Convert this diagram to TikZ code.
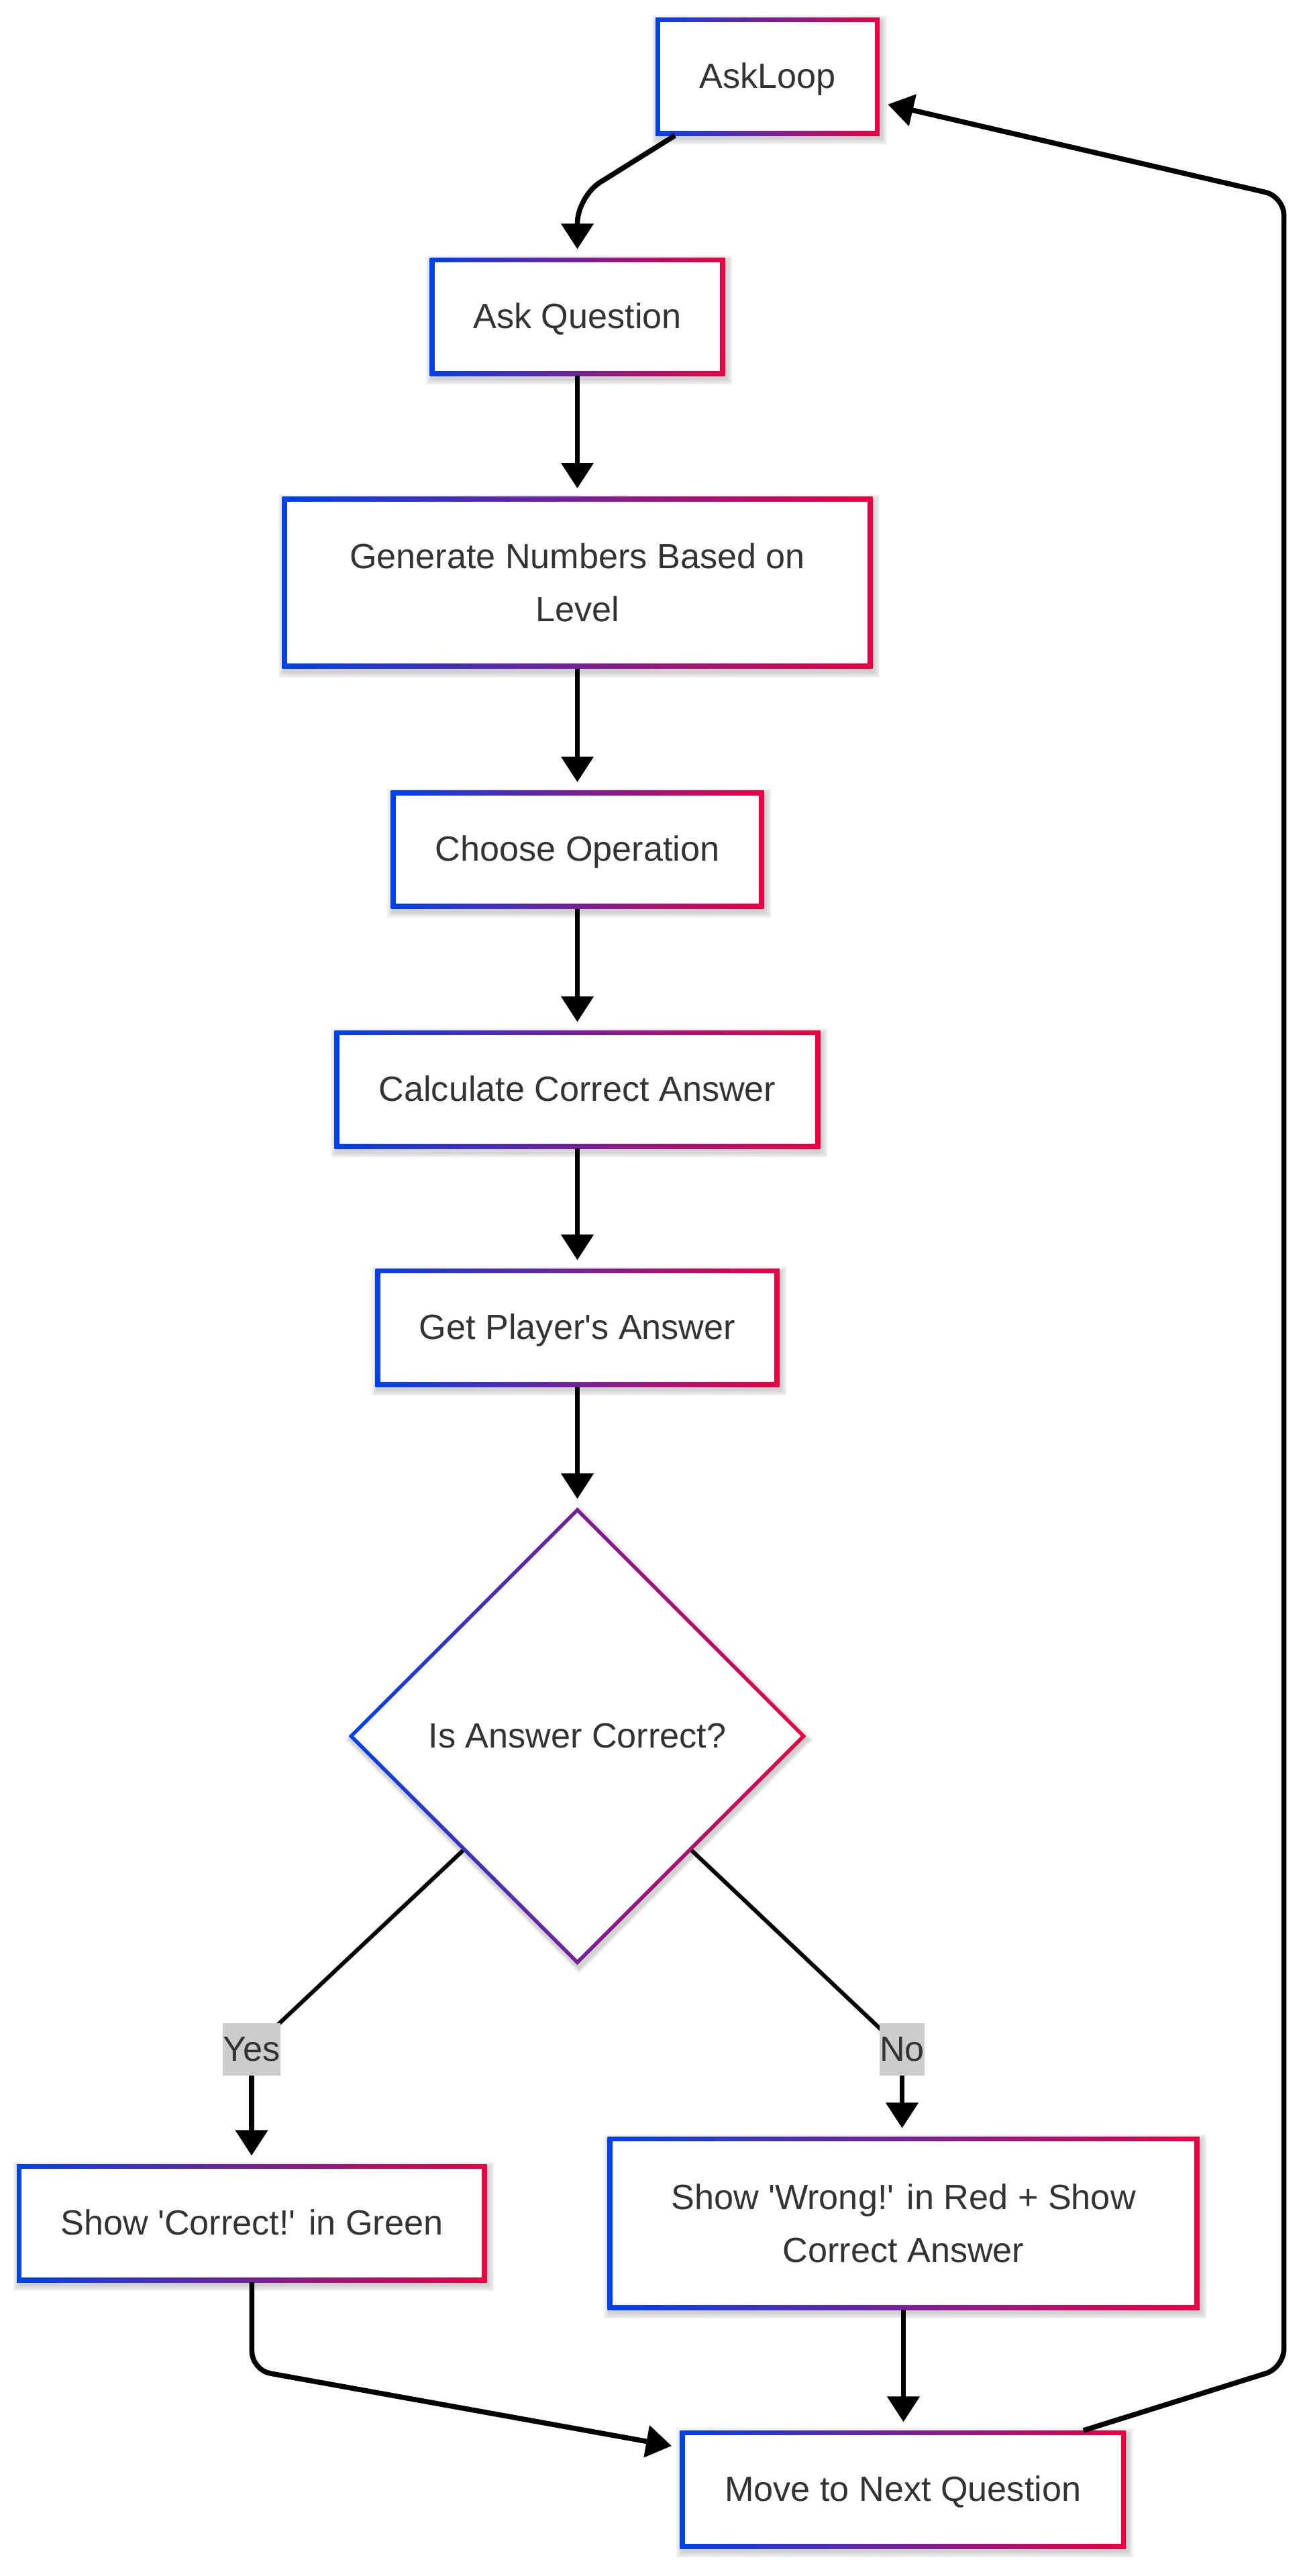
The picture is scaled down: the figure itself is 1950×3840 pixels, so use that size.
\documentclass[tikz,border=0pt]{standalone}
\usepackage{fontspec}
\setmainfont{Liberation Sans}
\usetikzlibrary{arrows.meta,calc,shapes.geometric}
\pgfdeclarelayer{bg}
\pgfdeclarelayer{edges}
\pgfsetlayers{bg,edges,main}
\definecolor{gA}{HTML}{0042EB}
\definecolor{gB}{HTML}{EB0042}
\definecolor{txt}{HTML}{333333}
\definecolor{lbl}{HTML}{CCCCCC}
\definecolor{shd}{HTML}{B9B9B9}
\newcommand\sq{\textquotesingle}
\newcommand\gbox[1]{%
\begin{pgfonlayer}{bg}
\foreach \e in {8,5.5,3,1}{\fill[shd,opacity=0.22] ($(#1.north west)+(2.5-\e,5-\e)$) rectangle ($(#1.south east)+(2.5+\e,5+\e)$);}
\shade[left color=gA,right color=gB] (#1.north west) rectangle (#1.south east);
\fill[white] ($(#1.north west)+(7.3,7.3)$) rectangle ($(#1.south east)+(-7.3,-7.3)$);
\end{pgfonlayer}}
\newcommand\gdia[1]{%
\begin{pgfonlayer}{bg}
\foreach \e in {8,5.5,3,1}{\fill[shd,opacity=0.22] ($(#1.north)+(2.5,5-\e)$) -- ($(#1.east)+(2.5+\e,5)$) -- ($(#1.south)+(2.5,5+\e)$) -- ($(#1.west)+(2.5-\e,5)$) -- cycle;}
\shade[left color=gA,right color=gB] (#1.north) -- (#1.east) -- (#1.south) -- (#1.west) -- cycle;
\fill[white] ($(#1.north)+(0,7.8)$) -- ($(#1.east)+(-7.8,0)$) -- ($(#1.south)+(0,-7.8)$) -- ($(#1.west)+(7.8,0)$) -- cycle;
\end{pgfonlayer}}
\begin{document}
\begin{tikzpicture}[x=0.5pt,y=-0.5pt,
  nodefont/.style={font=\fontsize{26.1pt}{39.5pt}\selectfont, text=txt},
  onebox/.style={nodefont, rectangle, inner sep=0pt, outer sep=0pt, minimum height=88pt, text height=22pt, text depth=5pt},
  twobox/.style={nodefont, rectangle, inner sep=0pt, outer sep=0pt, align=center},
  decision/.style={nodefont, diamond, inner sep=0pt, outer sep=0pt, minimum width=341pt, minimum height=341pt, text height=22pt, text depth=5pt},
  elabel/.style={nodefont, rectangle, fill=lbl, inner sep=0pt, outer sep=0pt, minimum height=39pt, text height=22pt, text depth=5pt},
  conn/.style={draw=black, line width=3.8pt, -{Triangle[length=19pt,width=23.5pt]}, shorten >=6.3pt},
  thinconn/.style={draw=black, line width=3pt}
]
\begin{pgfonlayer}{bg}
\fill[white] (0,0) rectangle (1950,3840);
\end{pgfonlayer}
\useasboundingbox (0,0) rectangle (1950,3840);

\node[onebox, minimum width=167pt] (askloop) at (1144,114) {AskLoop};
\node[onebox, minimum width=220pt] (askq) at (860.5,472) {Ask Question};
\node[twobox, minimum width=440pt, minimum height=128pt] (gen) at (860.5,868.6) {Generate Numbers Based on\\Level};
\node[onebox, minimum width=278pt] (choose) at (860.5,1266.5) {Choose Operation};
\node[onebox, minimum width=362pt] (calc) at (860.5,1624) {Calculate Correct Answer};
\node[onebox, minimum width=301pt] (getp) at (860.5,1979) {Get Player\sq{}s Answer};
\node[decision] (dia) at (860.5,2588) {Is Answer Correct?};
\node[elabel, minimum width=43pt] (yes) at (375,3055) {Yes};
\node[elabel, minimum width=33.5pt] (no) at (1344.5,3055) {No};
\node[onebox, minimum width=350.3pt] (correct) at (375.4,3314) {Show \sq{}Correct!\sq{} in Green};
\node[twobox, minimum width=441pt, minimum height=129pt] (wrong) at (1346.5,3314) {Show \sq{}Wrong!\sq{} in Red + Show\\Correct Answer};
\node[onebox, minimum width=332.3pt] (move) at (1345.8,3711) {Move to Next Question};

\gbox{askloop}
\gbox{askq}
\gbox{gen}
\gbox{choose}
\gbox{calc}
\gbox{getp}
\gdia{dia}
\gbox{correct}
\gbox{wrong}
\gbox{move}

\coordinate (c1) at (860.5,293);
\coordinate (c2) at (375.4,3533);
\coordinate (rb) at (1913.6,3529.5);
\coordinate (rt) at (1913.6,293);

\begin{pgfonlayer}{edges}
\draw[conn, rounded corners=20pt] ($(askloop.south)+(-138,0)$) -- (c1) -- (askq.north);
\draw[conn] (askq.south) -- (gen.north);
\draw[conn] (gen.south) -- (choose.north);
\draw[conn] (choose.south) -- (calc.north);
\draw[conn] (calc.south) -- (getp.north);
\draw[conn] (getp.south) -- (dia.north);
\draw[thinconn] ($(dia.west)!0.5!(dia.south)$) -- (yes.center);
\draw[conn] (yes.center) -- (yes.center |- correct.north);
\draw[thinconn] ($(dia.east)!0.5!(dia.south)$) -- (no.center);
\draw[conn] (no.center) -- (no.center |- wrong.north);
\draw[conn, rounded corners=14pt] (correct.south) -- (c2) -- ($(move.west)+(0,-62.7)$);
\draw[conn] (wrong.south) -- (wrong.south |- move.north);
\draw[conn, rounded corners=14pt] ($(move.north)+(269,0)$) -- (rb) -- (rt) -- ($(askloop.east)+(0,38.8)$);
\end{pgfonlayer}
\end{tikzpicture}
\end{document}
